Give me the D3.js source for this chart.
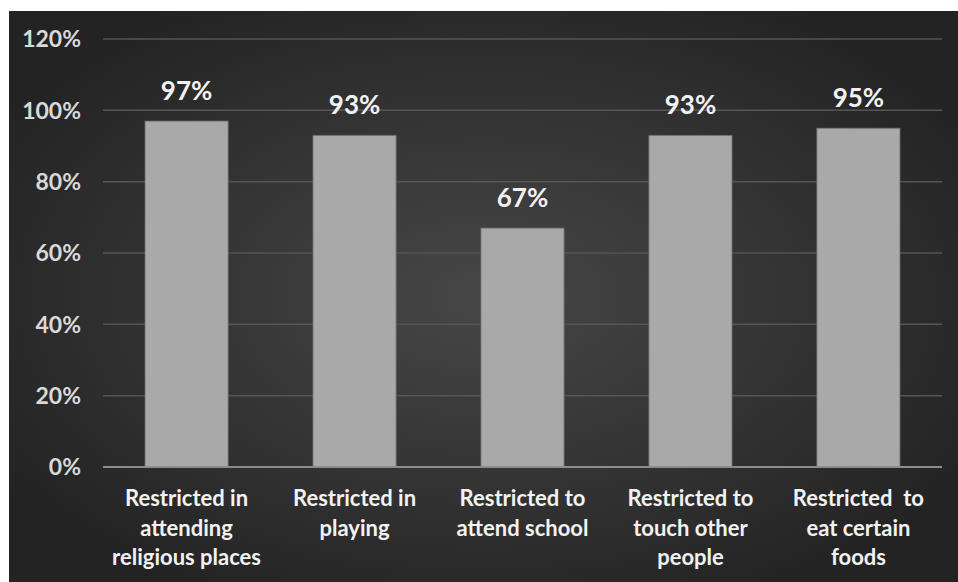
<!DOCTYPE html>
<meta charset="utf-8">
<style>
body { margin: 0; background: #fff; }
text { font-family: Lato, "Open Sans", sans-serif; font-weight: bold; }
</style>
<body>
<script src="https://d3js.org/d3.v7.min.js"></script>
<script>
// chart data
var categories = [
  ["Restricted in", "attending", "religious places"],
  ["Restricted in", "playing"],
  ["Restricted to", "attend school"],
  ["Restricted to", "touch other", "people"],
  ["Restricted  to", "eat certain", "foods"]
];
var values = [97, 93, 67, 93, 95];
var yTicks = [0, 20, 40, 60, 80, 100, 120];

var W = 958, H = 582;
var svg = d3.select("body").append("svg").attr("width", W).attr("height", H);

// dark panel with soft radial light in the middle
var defs = svg.append("defs");
var grad = defs.append("radialGradient").attr("id", "bg")
  .attr("cx", "50%").attr("cy", "50%").attr("r", "60%");
grad.append("stop").attr("offset", "0%").attr("stop-color", "#474747");
grad.append("stop").attr("offset", "100%").attr("stop-color", "#232323");

svg.append("rect").attr("x", 9).attr("y", 11).attr("width", W - 9).attr("height", H - 11)
  .attr("fill", "url(#bg)");

// plot box (px)
var plotL = 103, plotR = 942, plotT = 39, plotB = 467;

var x = d3.scaleBand().domain(d3.range(values.length)).range([plotL, plotR])
  .paddingInner(0.505).paddingOuter(0.25);
var y = d3.scaleLinear().domain([0, 120]).range([plotB, plotT]);

// gridlines
svg.append("g").selectAll("line").data(yTicks.filter(function(d){ return d > 0; }))
  .enter().append("line")
  .attr("x1", plotL).attr("x2", plotR)
  .attr("y1", function(d){ return y(d); }).attr("y2", function(d){ return y(d); })
  .attr("stroke", "#555").attr("stroke-width", 1.5);

// y tick labels
svg.append("g").selectAll("text").data(yTicks).enter().append("text")
  .attr("x", 81).attr("y", function(d){ return y(d); })
  .attr("dy", "0.36em").attr("text-anchor", "end")
  .attr("fill", "#d9d9d9").style("font-size", "23px")
  .text(function(d){ return d + "%"; });

// bars
svg.append("g").selectAll("rect").data(values).enter().append("rect")
  .attr("x", function(d, i){ return x(i); })
  .attr("y", function(d){ return y(d); })
  .attr("width", x.bandwidth())
  .attr("height", function(d){ return plotB - y(d); })
  .attr("fill", "#a9a9a9").attr("stroke", "#6a6a6a").attr("stroke-width", 0.8);

// axis line
svg.append("line").attr("x1", plotL).attr("x2", plotR).attr("y1", plotB).attr("y2", plotB)
  .attr("stroke", "#8c8c8c").attr("stroke-width", 2);

// value labels
svg.append("g").selectAll("text").data(values).enter().append("text")
  .attr("x", function(d, i){ return x(i) + x.bandwidth() / 2; })
  .attr("y", function(d){ return y(d) - 21; })
  .attr("text-anchor", "middle").attr("fill", "#f2f2f2").style("font-size", "26px")
  .text(function(d){ return d + "%"; });

// category labels
var cat = svg.append("g").selectAll("text").data(categories).enter().append("text")
  .attr("text-anchor", "middle").attr("fill", "#f2f2f2").style("font-size", "22px")
  .attr("x", function(d, i){ return x(i) + x.bandwidth() / 2; })
  .attr("y", 506);
cat.selectAll("tspan").data(function(d){ return d; }).enter().append("tspan")
  .attr("x", function(){ return d3.select(this.parentNode).attr("x"); })
  .attr("dy", function(d, i){ return i === 0 ? 0 : 29.5; })
  .style("white-space", "pre")
  .text(function(d){ return d; });
</script>
</body>
